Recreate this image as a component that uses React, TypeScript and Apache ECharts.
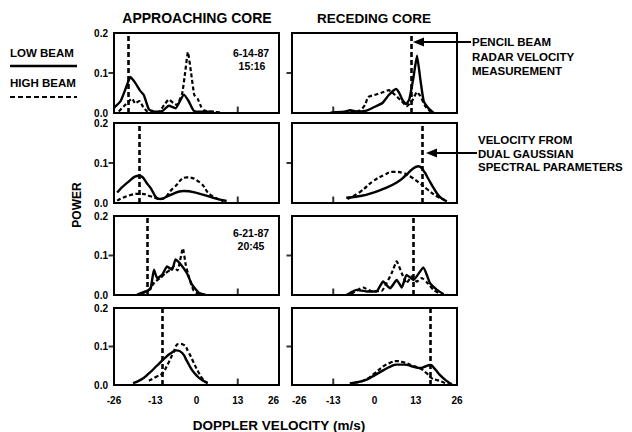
import React, { useEffect, useRef } from "react";
import * as echarts from "echarts";

// ---- data: [doppler velocity (m/s), power] ----
const approach1Low = [[-26, 0.013], [-23.9, 0.03], [-22.2, 0.064], [-20.8, 0.09], [-19.2, 0.074], [-17.8, 0.056], [-16.6, 0.045], [-15.0, 0.009], [-12.9, 0.003], [-10.8, 0.005], [-8.7, 0.018], [-6.6, 0.012], [-4.0, 0.046], [-2.5, 0.03], [-0.9, 0.006], [1.7, 0.003], [5.5, 0.003]];
const approach1High = [[-24.5, 0.004], [-22.5, 0.02], [-20.3, 0.036], [-19.3, 0.024], [-18.0, 0.03], [-16.8, 0.015], [-15.4, 0.003], [-12, 0.002], [-10.2, 0.02], [-8.7, 0.034], [-7.3, 0.025], [-6.2, 0.02], [-4.5, 0.05], [-3.6, 0.1], [-2.7, 0.152], [-1.7, 0.1], [-0.7, 0.045], [0.4, 0.035], [1.5, 0.015], [2.5, 0.006], [5, 0.003], [8, 0.001]];
const approach2Low = [[-25, 0.026], [-21.8, 0.051], [-18.2, 0.068], [-15, 0.043], [-11.4, 0.01], [-8.3, 0.02], [-4.1, 0.03], [1.1, 0.023], [5.3, 0.013], [9.5, 0.005]];
const approach2High = [[-25, 0.006], [-20.8, 0.02], [-17.6, 0.023], [-14.5, 0.017], [-11.4, 0.01], [-7.2, 0.038], [-3, 0.064], [1.1, 0.051], [4.3, 0.021], [8.5, 0.005]];
const approach3Low = [[-18.7, 0.001], [-16.1, 0.009], [-14.5, 0.015], [-13.4, 0.064], [-12.4, 0.043], [-10.8, 0.051], [-9.3, 0.072], [-7.7, 0.064], [-6.6, 0.09], [-5.2, 0.08], [-3.0, 0.055], [-1.4, 0.026], [0.7, 0.006], [2.8, 0.001]];
const approach3High = [[-17.2, 0.003], [-15.1, 0.013], [-13, 0.034], [-11.4, 0.043], [-9.8, 0.055], [-8.3, 0.064], [-7.2, 0.072], [-6.0, 0.062], [-4.3, 0.118], [-3.4, 0.077], [-2.3, 0.043], [-1, 0.013], [0.6, 0.002]];
const approach4Low = [[-20, 0.005], [-17.5, 0.014], [-15, 0.03], [-12.5, 0.05], [-10, 0.07], [-8, 0.083], [-6.2, 0.09], [-4.5, 0.083], [-3, 0.062], [-1.5, 0.04], [0, 0.025], [1.5, 0.014], [3.5, 0.005]];
const approach4High = [[-15, 0.011], [-12.5, 0.022], [-10.8, 0.03], [-9, 0.055], [-7.5, 0.08], [-5.5, 0.107], [-4, 0.104], [-2.5, 0.085], [-1, 0.06], [0.5, 0.035], [2, 0.015], [3.5, 0.005]];

const recede1Low = [[-13.9, 0.001], [-9.7, 0.003], [-7.6, 0.007], [-5.5, 0.003], [-2.9, 0.005], [-1.3, 0.01], [0.5, 0.017], [2.5, 0.025], [4.5, 0.045], [6.8, 0.06], [7.8, 0.05], [9, 0.03], [10, 0.022], [11, 0.035], [12.3, 0.09], [13.4, 0.143], [14.4, 0.087], [15.5, 0.03], [17.1, 0.011], [18.6, 0.001]];
const recede1High = [[-7.6, 0.002], [-4.5, 0.006], [-3, 0.02], [-2, 0.04], [0, 0.045], [2, 0.05], [4.5, 0.057], [6.5, 0.045], [8.5, 0.03], [10.2, 0.017], [11.8, 0.03], [13.4, 0.052], [14.4, 0.043], [16.0, 0.017], [17.6, 0.004]];
const recede2Low = [[-8.9, 0.013], [-4, 0.018], [-0.4, 0.026], [3, 0.036], [7, 0.051], [10, 0.07], [12, 0.085], [13.8, 0.092], [15.5, 0.08], [17, 0.06], [18.6, 0.038], [20.5, 0.016], [22.8, 0.004]];
const recede2High = [[-8.5, 0.01], [-4.5, 0.028], [-0.4, 0.055], [3, 0.07], [5.9, 0.078], [9, 0.075], [11.5, 0.065], [14, 0.051], [16.5, 0.035], [19.6, 0.017], [22, 0.008]];
const recede3Low = [[-8.9, 0.0], [-7.3, 0.007], [-5.7, 0.013], [-2.5, 0.009], [0.6, 0.009], [2.7, 0.034], [4.9, 0.017], [7, 0.038], [8.6, 0.019], [10.1, 0.051], [12.3, 0.038], [15.4, 0.07], [17.5, 0.03], [19.7, 0.013], [21.8, 0.002]];
const recede3High = [[-7.3, 0.003], [-3.6, 0.019], [-1, 0.01], [2.2, 0.01], [3.8, 0.03], [5.4, 0.055], [7, 0.085], [8.6, 0.055], [10.1, 0.03], [11.7, 0.047], [13.3, 0.034], [14.9, 0.043], [16.5, 0.032], [18.6, 0.013], [20.7, 0.003]];
const recede4Low = [[-7.8, 0.004], [-5, 0.008], [-2.5, 0.014], [0, 0.025], [2.7, 0.038], [5, 0.048], [7, 0.053], [9.5, 0.053], [12, 0.048], [14.4, 0.044], [16, 0.048], [17.5, 0.052], [19, 0.042], [20.5, 0.027], [22.5, 0.012], [24.4, 0.002]];
const recede4High = [[-6, 0.006], [-3, 0.013], [0, 0.03], [2.7, 0.048], [5, 0.058], [7, 0.062], [9.5, 0.058], [12, 0.05], [14.5, 0.043], [16.5, 0.03], [18, 0.018], [20, 0.012], [22, 0.006], [23.5, 0.002]];

// pencil-beam radar velocity per panel (approaching / receding), m/s
const pencilApproach = [-21.4, -18.0, -15.5, -10.8];
const pencilRecede = [11.7, 15.2, 12.3, 17.5];

const lowSeries = [approach1Low, recede1Low, approach2Low, recede2Low, approach3Low, recede3Low, approach4Low, recede4Low];
const highSeries = [approach1High, recede1High, approach2High, recede2High, approach3High, recede3High, approach4High, recede4High];

const xTicks = [-26, -13, 0, 13, 26];
const yTicks = [0, 0.1, 0.2];

const FONT = "'Liberation Sans', Arial, sans-serif";

export default function App() {
  const ref = useRef<HTMLDivElement>(null);
  useEffect(() => {
    if (!ref.current) return;
    const chart = echarts.init(ref.current, null, { renderer: "svg" });

    const rowTops = [33, 123, 216, 308];
    const rowHeights = [80, 80, 79, 77];
    const colLefts = [114, 292];
    const grids: any[] = [];
    const xAxes: any[] = [];
    const yAxes: any[] = [];
    const series: any[] = [];

    for (let r = 0; r < 4; r++) {
      for (let c = 0; c < 2; c++) {
        const i = r * 2 + c;
        grids.push({
          left: colLefts[c], top: rowTops[r], width: 165, height: rowHeights[r],
          show: true, borderColor: "#000", borderWidth: 2, backgroundColor: "transparent",
        });
        xAxes.push({
          type: "value", gridIndex: i, min: xTicks[0], max: xTicks[xTicks.length - 1], interval: 13,
          position: "bottom",
          axisLine: { show: false, onZero: false },
          axisTick: { show: false },
          splitLine: { show: false },
          axisLabel: {
            show: r === 3, margin: 10, color: "#000", fontFamily: FONT, fontWeight: "bold", fontSize: 10,
            alignMinLabel: c === 1 ? "left" : "center",
            alignMaxLabel: c === 0 ? "right" : "center",
            formatter: (v: number) => String(v),
          },
        });
        yAxes.push({
          type: "value", gridIndex: i, min: yTicks[0], max: yTicks[2], interval: 0.1,
          position: "left",
          axisLine: { show: false, onZero: false },
          axisTick: { show: false },
          splitLine: { show: false },
          axisLabel: {
            show: c === 0, margin: 6, color: "#000", fontFamily: FONT, fontWeight: "bold", fontSize: 10,
            formatter: (v: number) => v.toFixed(1),
          },
        });
        const smooth = r === 1 || r === 3 ? 0.5 : 0.15;
        series.push({
          type: "line", xAxisIndex: i, yAxisIndex: i, data: lowSeries[i], showSymbol: false, smooth,
          lineStyle: { color: "#000", width: 2.4 }, silent: true,
        });
        series.push({
          type: "line", xAxisIndex: i, yAxisIndex: i, data: highSeries[i], showSymbol: false, smooth,
          lineStyle: { color: "#000", width: 2.2, type: [4, 2.5] }, silent: true,
          markLine: {
            silent: true, symbol: ["none", "none"], label: { show: false },
            lineStyle: { color: "#000", width: 2.6, type: [5, 3] },
            data: [{ xAxis: c === 0 ? pencilApproach[r] : pencilRecede[r] }],
          },
        });
        // tick marks: one inside tick on the bottom edge, one outside tick on the left edge
        series.push({
          type: "scatter", xAxisIndex: i, yAxisIndex: i, silent: true, clip: false, z: 5,
          data: [[c === 0 ? xTicks[3] : xTicks[1], yTicks[0]]],
          symbol: "rect", symbolSize: [2, 6], symbolOffset: [0, -3.5],
          itemStyle: { color: "#000" },
        });
        series.push({
          type: "scatter", xAxisIndex: i, yAxisIndex: i, silent: true, clip: false, z: 5,
          data: [[xTicks[0], yTicks[1]]],
          symbol: "rect", symbolSize: [5, 2], symbolOffset: [-3, 0],
          itemStyle: { color: "#000" },
        });
      }
    }

    const txt = (text: string, x: number, y: number, size: number, align = "left", extra: any = {}) => ({
      type: "text", x, y, silent: true, ...extra,
      style: { text, fill: "#000", fontFamily: FONT, fontWeight: "bold", fontSize: size, textAlign: align, textVerticalAlign: "middle" },
    });

    const graphic: any[] = [
      txt("APPROACHING CORE", 197, 18, 14, "center"),
      txt("RECEDING CORE", 374, 18, 13.5, "center"),
      txt("LOW BEAM", 10, 53, 11.5),
      { type: "line", silent: true, shape: { x1: 10, y1: 66, x2: 77, y2: 66 }, style: { stroke: "#000", lineWidth: 2.5 } },
      txt("HIGH BEAM", 10, 83, 11.5),
      { type: "line", silent: true, shape: { x1: 10, y1: 97, x2: 77, y2: 97 }, style: { stroke: "#000", lineWidth: 2.2, lineDash: [5, 3] } },
      txt("6-14-87", 251, 53, 10.5, "center"),
      txt("15:16", 252, 66, 10.5, "center"),
      txt("6-21-87", 251, 233, 10.5, "center"),
      txt("20:45", 251, 246, 10.5, "center"),
      txt("POWER", 77, 205, 12, "center", { rotation: Math.PI / 2 }),
      txt("DOPPLER VELOCITY (m/s)", 279, 425, 13.5, "center"),
      txt("PENCIL BEAM", 472, 42, 11.5),
      txt("RADAR VELOCITY", 472, 57, 11.5),
      txt("MEASUREMENT", 472, 71, 11.5),
      { type: "line", silent: true, shape: { x1: 471, y1: 42, x2: 420, y2: 42 }, style: { stroke: "#000", lineWidth: 2 } },
      { type: "polygon", silent: true, shape: { points: [[413, 42], [424, 37.5], [424, 46.5]] }, style: { fill: "#000" } },
      txt("VELOCITY FROM", 478, 140, 11.5),
      txt("DUAL GAUSSIAN", 478, 153.5, 11.5),
      txt("SPECTRAL PARAMETERS", 478, 167, 11.5),
      { type: "line", silent: true, shape: { x1: 477, y1: 153, x2: 432, y2: 153 }, style: { stroke: "#000", lineWidth: 2 } },
      { type: "polygon", silent: true, shape: { points: [[426, 153], [437, 148.5], [437, 157.5]] }, style: { fill: "#000" } },
    ];

    chart.setOption({
      animation: false,
      backgroundColor: "#fff",
      grid: grids,
      xAxis: xAxes,
      yAxis: yAxes,
      series,
      graphic,
    });
    return () => chart.dispose();
  }, []);
  return <div ref={ref} style={{ position: "fixed", left: 0, top: 0, width: 632, height: 432 }} />;
}
